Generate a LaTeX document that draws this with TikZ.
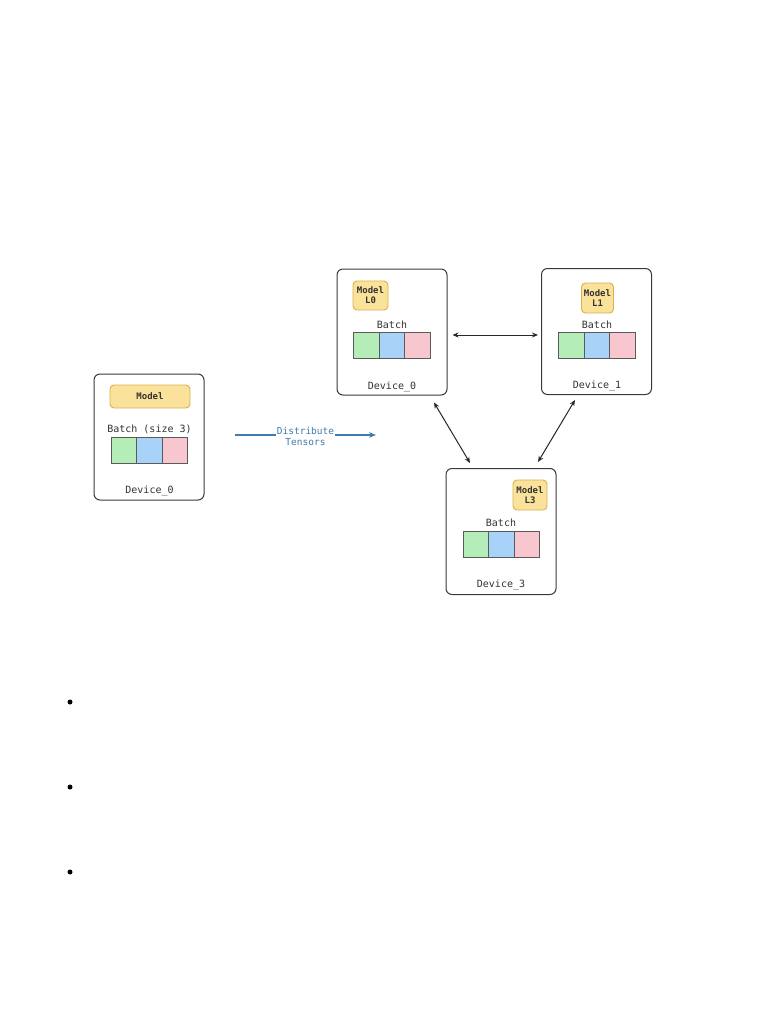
\documentclass[tikz,border=0pt]{standalone}
\usepackage{fontspec}
\setmonofont{DejaVu Sans Mono}
\usetikzlibrary{arrows.meta}
\definecolor{boxline}{HTML}{3A3A3A}
\definecolor{modelfill}{HTML}{FBE29A}
\definecolor{modelline}{HTML}{D8B24E}
\definecolor{cgreen}{HTML}{B4EDB8}
\definecolor{cblue}{HTML}{A8D2F8}
\definecolor{cpink}{HTML}{F8C6CE}
\definecolor{cellline}{HTML}{5A5A5A}
\definecolor{distblue}{HTML}{3D7BB0}
\tikzset{
  device/.style={draw=boxline, line width=1pt, rounded corners=6pt, fill=white, minimum width=110pt, minimum height=126pt, inner sep=0pt},
  modelbox/.style={draw=modelline, line width=0.9pt, fill=modelfill, rounded corners=4pt, font=\ttfamily\bfseries\fontsize{9}{10}\selectfont, text=black!80, align=center, inner sep=0pt},
  cell/.style={draw=cellline, line width=0.7pt, minimum width=25.5pt, minimum height=26pt, inner sep=0pt},
  lbl/.style={font=\ttfamily\fontsize{10}{11}\selectfont, text=black!80, inner sep=0pt},
  link/.style={draw=black!85, line width=1pt, {Stealth[length=6pt,width=5pt]}-{Stealth[length=6pt,width=5pt]}},
  bullet/.style={circle, fill=black, inner sep=0pt, minimum size=5pt}
}
\begin{document}
\begin{tikzpicture}[x=1pt,y=-1pt]
\useasboundingbox (0,0) rectangle (768,1024);
% Left device
\node[device] (L) at (149,437) {};
\node[modelbox, minimum width=80pt, minimum height=23pt] (Lm) at (150,396.5) {Model};
\node[lbl] (Lb) at (149.5,429) {Batch (size 3)};
\node[cell, fill=cgreen] (Lc1) at (124,450) {};
\node[cell, fill=cblue] (Lc2) at (149.5,450) {};
\node[cell, fill=cpink] (Lc3) at (175,450) {};
\node[lbl] (Ld) at (149.5,491) {Device\_0};
% Distribute arrow
\coordinate (ds) at (235,435);
\coordinate (de) at (376,435);
\draw[draw=distblue, line width=1.3pt, -{Stealth[length=7pt,width=5.5pt]}] (ds) -- (de);
\node[fill=white, font=\ttfamily\fontsize{9.5}{11}\selectfont, text=distblue, align=center, inner sep=1pt] (dl) at (305.5,436) {Distribute\\Tensors};
% Device 0
\node[device] (D0) at (392,332) {};
\node[modelbox, minimum width=35pt, minimum height=29pt] (M0) at (370.5,295.5) {Model\\L0};
\node[lbl] (B0) at (392,325) {Batch};
\node[cell, fill=cgreen] (a1) at (366.5,345) {};
\node[cell, fill=cblue] (a2) at (392,345) {};
\node[cell, fill=cpink] (a3) at (417.5,345) {};
\node[lbl] (N0) at (392,387) {Device\_0};
% Device 1
\node[device] (D1) at (596.5,331.5) {};
\node[modelbox, minimum width=32pt, minimum height=30pt] (M1) at (597.5,298) {Model\\L1};
\node[lbl] (B1) at (597,325) {Batch};
\node[cell, fill=cgreen] (b1) at (571.5,345) {};
\node[cell, fill=cblue] (b2) at (597,345) {};
\node[cell, fill=cpink] (b3) at (622.5,345) {};
\node[lbl] (N1) at (597,386) {Device\_1};
% Device 3
\node[device] (D3) at (501,531.5) {};
\node[modelbox, minimum width=34pt, minimum height=30pt] (M3) at (530,495) {Model\\L3};
\node[lbl] (B3) at (501,523) {Batch};
\node[cell, fill=cgreen] (c1) at (476,544) {};
\node[cell, fill=cblue] (c2) at (501.5,544) {};
\node[cell, fill=cpink] (c3) at (527,544) {};
\node[lbl] (N3) at (501,585) {Device\_3};
% Links
\draw[link] ([shift={(5,3)}]D0.east) -- ([shift={(-3,3.5)}]D1.west);
\draw[link] ([shift={(42,7)}]D0.south) -- ([shift={(-31,-5)}]D3.north);
\draw[link] ([shift={(-21.5,5)}]D1.south) -- ([shift={(37,-6)}]D3.north);
% Bullets
\node[bullet] (p1) at (70,702) {};
\node[bullet] (p2) at (70,787) {};
\node[bullet] (p3) at (70,872) {};
\end{tikzpicture}
\end{document}
